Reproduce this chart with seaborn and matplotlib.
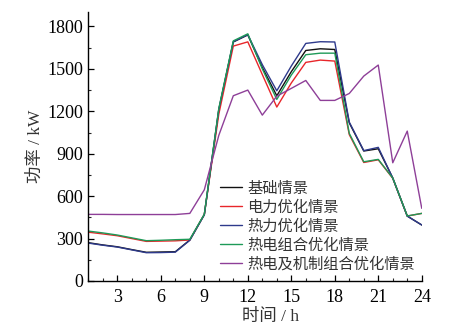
import matplotlib
matplotlib.use("Agg")
import matplotlib.pyplot as plt
from matplotlib.ticker import MultipleLocator
import seaborn as sns
import pandas as pd

# Hourly power under each scenario (kW)
hours = list(range(1, 25))
base = [271, 255, 242, 222, 203, 205, 207, 290, 470, 1210, 1690, 1740,
        1510, 1310, 1480, 1630, 1642, 1637, 1118, 919, 935, 728, 459, 396]
power_opt = [345, 333, 320, 300, 280, 282, 284, 290, 470, 1180, 1661, 1691,
             1460, 1230, 1400, 1546, 1562, 1555, 1035, 838, 857, 726, 459, 478]
heat_opt = [268, 253, 240, 220, 200, 201, 204, 288, 468, 1215, 1692, 1742,
            1530, 1345, 1520, 1680, 1692, 1690, 1124, 922, 945, 728, 459, 396]
combined_opt = [353, 340, 325, 305, 285, 288, 292, 295, 472, 1220, 1698, 1748,
                1500, 1284, 1456, 1600, 1611, 1611, 1044, 843, 860, 728, 460, 478]
mechanism_opt = [471, 471, 470, 470, 470, 470, 470, 478, 645, 1030, 1310, 1350,
                 1173, 1307, 1362, 1418, 1277, 1277, 1326, 1449, 1527, 836, 1060, 514]

labels = ["基础情景", "电力优化情景", "热力优化情景", "热电组合优化情景", "热电及机制组合优化情景"]
colors = ["#111111", "#e8262a", "#2e3a8c", "#1e9a58", "#8e3f98"]
series = [base, power_opt, heat_opt, combined_opt, mechanism_opt]

df = pd.concat(
    [pd.DataFrame({"hour": hours, "power": vals, "scenario": name})
     for name, vals in zip(labels, series)],
    ignore_index=True,
)

sns.set_style("ticks")
plt.rcParams["font.family"] = ["Liberation Serif", "Noto Sans CJK SC"]
plt.rcParams["axes.unicode_minus"] = False

fig = plt.figure(figsize=(4.65, 3.28), dpi=100)
ax = fig.add_axes([0.190, 0.1433, 0.717, 0.8192])

sns.lineplot(data=df, x="hour", y="power", hue="scenario", hue_order=labels,
             palette=colors, linewidth=1.0, ax=ax, sort=False)

ax.set_xlim(1, 24)
ax.set_ylim(0, 1900)
ax.xaxis.set_major_locator(MultipleLocator(3))
ax.xaxis.set_minor_locator(MultipleLocator(1))
ax.yaxis.set_major_locator(MultipleLocator(300))
ax.yaxis.set_minor_locator(MultipleLocator(150))
ax.set_xticks([3, 6, 9, 12, 15, 18, 21, 24])
ax.set_yticks([0, 300, 600, 900, 1200, 1500, 1800])
ax.tick_params(which="major", direction="in", length=4.5, width=0.9,
               labelsize=13, colors="#000000", pad=4)
ax.tick_params(which="minor", direction="in", length=2.5, width=0.8)
ax.tick_params(axis="x", pad=6)

for side in ("top", "right"):
    ax.spines[side].set_visible(False)
for side in ("left", "bottom"):
    ax.spines[side].set_linewidth(1.0)
    ax.spines[side].set_color("#000000")

ax.set_xlabel("时间 / h", fontsize=12.5, color="#333333")
ax.xaxis.set_label_coords(0.548, -0.105)
ax.set_ylabel("功率 / kW", fontsize=12.5, color="#333333", labelpad=2)

leg = ax.legend(loc="lower left", bbox_to_anchor=(0.366, 0.0), frameon=False,
                fontsize=11, handlelength=1.5, handletextpad=0.3,
                labelspacing=0.3, borderaxespad=0.2)
for t in leg.get_texts():
    t.set_color("#333333")

fig.savefig("out.png", dpi=100)
